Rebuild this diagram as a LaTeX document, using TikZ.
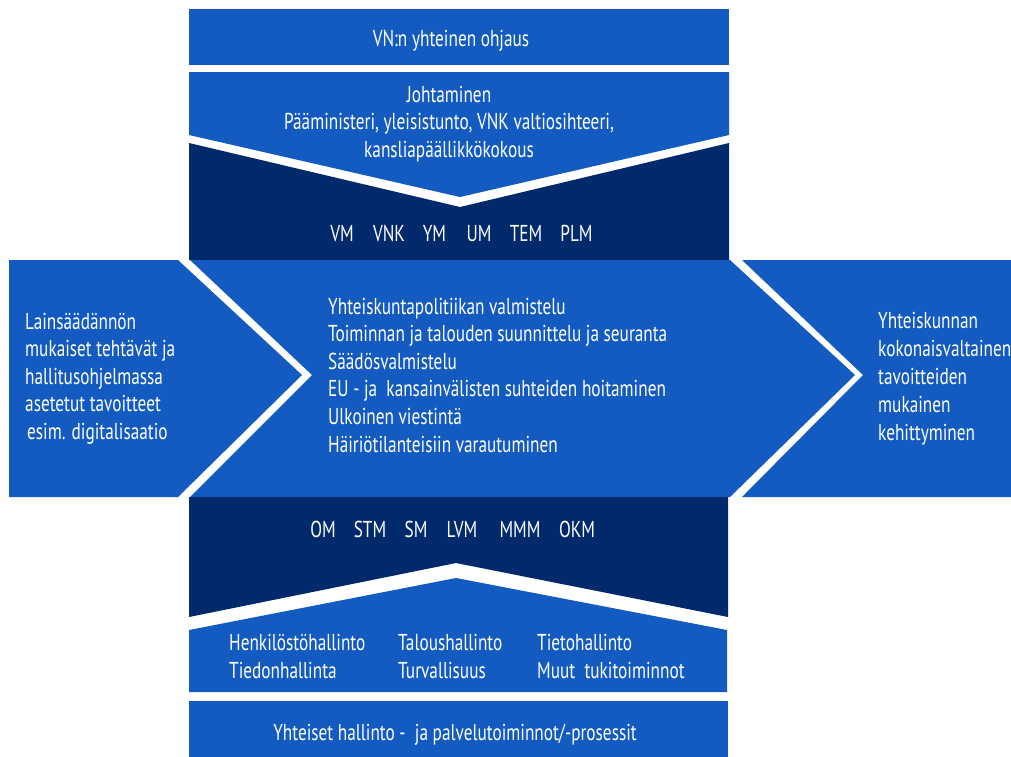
\documentclass[tikz,border=0pt]{standalone}
\usepackage{fontspec}
\setmainfont{PT Sans}[FakeStretch=0.75]
\definecolor{panelblue}{HTML}{135BC1}
\definecolor{panelnavy}{HTML}{012A6C}
\tikzset{
  bluepanel/.style={fill=panelblue},
  navypanel/.style={fill=panelnavy},
  txt/.style={text=white, inner sep=0pt, font=\fontsize{23}{28}\selectfont},
  ctxt/.style={txt, anchor=base},
  ltxt/.style={txt, anchor=base west}
}
\begin{document}
\begin{tikzpicture}[x=1pt,y=-1pt]
\clip (0,0) rectangle (1011,756);
\fill[white] (0,0) rectangle (1011,756);

% --- upper column ---
\fill[bluepanel] (189,9) rectangle (729,65);
\fill[bluepanel] (189,72) -- (729,72) -- (729,135) -- (460,197) -- (189,135) -- cycle;
\fill[navypanel] (189,143) -- (460,207) -- (729,143) -- (729,260) -- (189,260) -- cycle;

% --- middle band ---
\fill[bluepanel] (9,260) -- (178,260) -- (302,375) -- (178,497) -- (9,497) -- cycle;
\fill[bluepanel] (190,260) -- (730,260) -- (855,375) -- (730,497) -- (190,497) -- (312,375) -- cycle;
\fill[bluepanel] (742,260) -- (1020,260) -- (1020,497) -- (742,497) -- (863,375) -- cycle;

% --- lower column ---
\fill[navypanel] (189,497) -- (728,497) -- (728,617) -- (456,563) -- (189,617) -- cycle;
\fill[bluepanel] (189,630) -- (456,578) -- (727,630) -- (727,692) -- (189,692) -- cycle;
\fill[bluepanel] (189,701) rectangle (728,760);

% --- texts ---
\node[ctxt] (ohjaus) at (451,46) {VN:n yhteinen ohjaus};
\node[ctxt] (joht1) at (449,102) {Johtaminen};
\node[ctxt] (joht2) at (449,129) {Pääministeri, yleisistunto, VNK valtiosihteeri,};
\node[ctxt] (joht3) at (449,157) {kansliapäällikkökokous};

\node[ctxt] (vm)  at (342,241) {VM};
\node[ctxt] (vnk) at (389,241) {VNK};
\node[ctxt] (ym)  at (434.5,241) {YM};
\node[ctxt] (um)  at (479,241) {UM};
\node[ctxt] (tem) at (526,241) {TEM};
\node[ctxt] (plm) at (576.5,241) {PLM};

\node[ltxt] (in1) at (25,329) {Lainsäädännön};
\node[ltxt] (in2) at (25,356.5) {mukaiset tehtävät ja};
\node[ltxt] (in3) at (25,384) {hallitusohjelmassa};
\node[ltxt] (in4) at (25,411.5) {asetetut tavoitteet};
\node[ltxt] (in5) at (27,439) {esim. digitalisaatio};

\node[ltxt] (task1) at (328,314) {Yhteiskuntapolitiikan valmistelu};
\node[ltxt] (task2) at (328,341.6) {Toiminnan ja talouden suunnittelu ja seuranta};
\node[ltxt] (task3) at (328,369.2) {Säädösvalmistelu};
\node[ltxt] (task4) at (328,396.8) {EU - ja \ kansainvälisten suhteiden hoitaminen};
\node[ltxt] (task5) at (328,424.4) {Ulkoinen viestintä};
\node[ltxt] (task6) at (328,452) {Häiriötilanteisiin varautuminen};

\node[ltxt] (out1) at (878,328) {Yhteiskunnan};
\node[ltxt] (out2) at (878,356) {kokonaisvaltainen};
\node[ltxt] (out3) at (878,384) {tavoitteiden};
\node[ltxt] (out4) at (878,412) {mukainen};
\node[ltxt] (out5) at (878,440) {kehittyminen};

\node[ctxt] (om)  at (323,537) {OM};
\node[ctxt] (stm) at (370,537) {STM};
\node[ctxt] (sm)  at (416,537) {SM};
\node[ctxt] (lvm) at (462,537) {LVM};
\node[ctxt] (mmm) at (520,537) {MMM};
\node[ctxt] (okm) at (577,537) {OKM};

\node[ltxt] (sup1) at (229,650) {Henkilöstöhallinto};
\node[ltxt] (sup2) at (398,650) {Taloushallinto};
\node[ltxt] (sup3) at (537,650) {Tietohallinto};
\node[ltxt] (sup4) at (229,678) {Tiedonhallinta};
\node[ltxt] (sup5) at (398,678) {Turvallisuus};
\node[ltxt] (sup6) at (537,678) {Muut \ tukitoiminnot};

\node[ctxt] (yhteiset) at (455,740) {Yhteiset hallinto - \ ja palvelutoiminnot/-prosessit};
\end{tikzpicture}
\end{document}
